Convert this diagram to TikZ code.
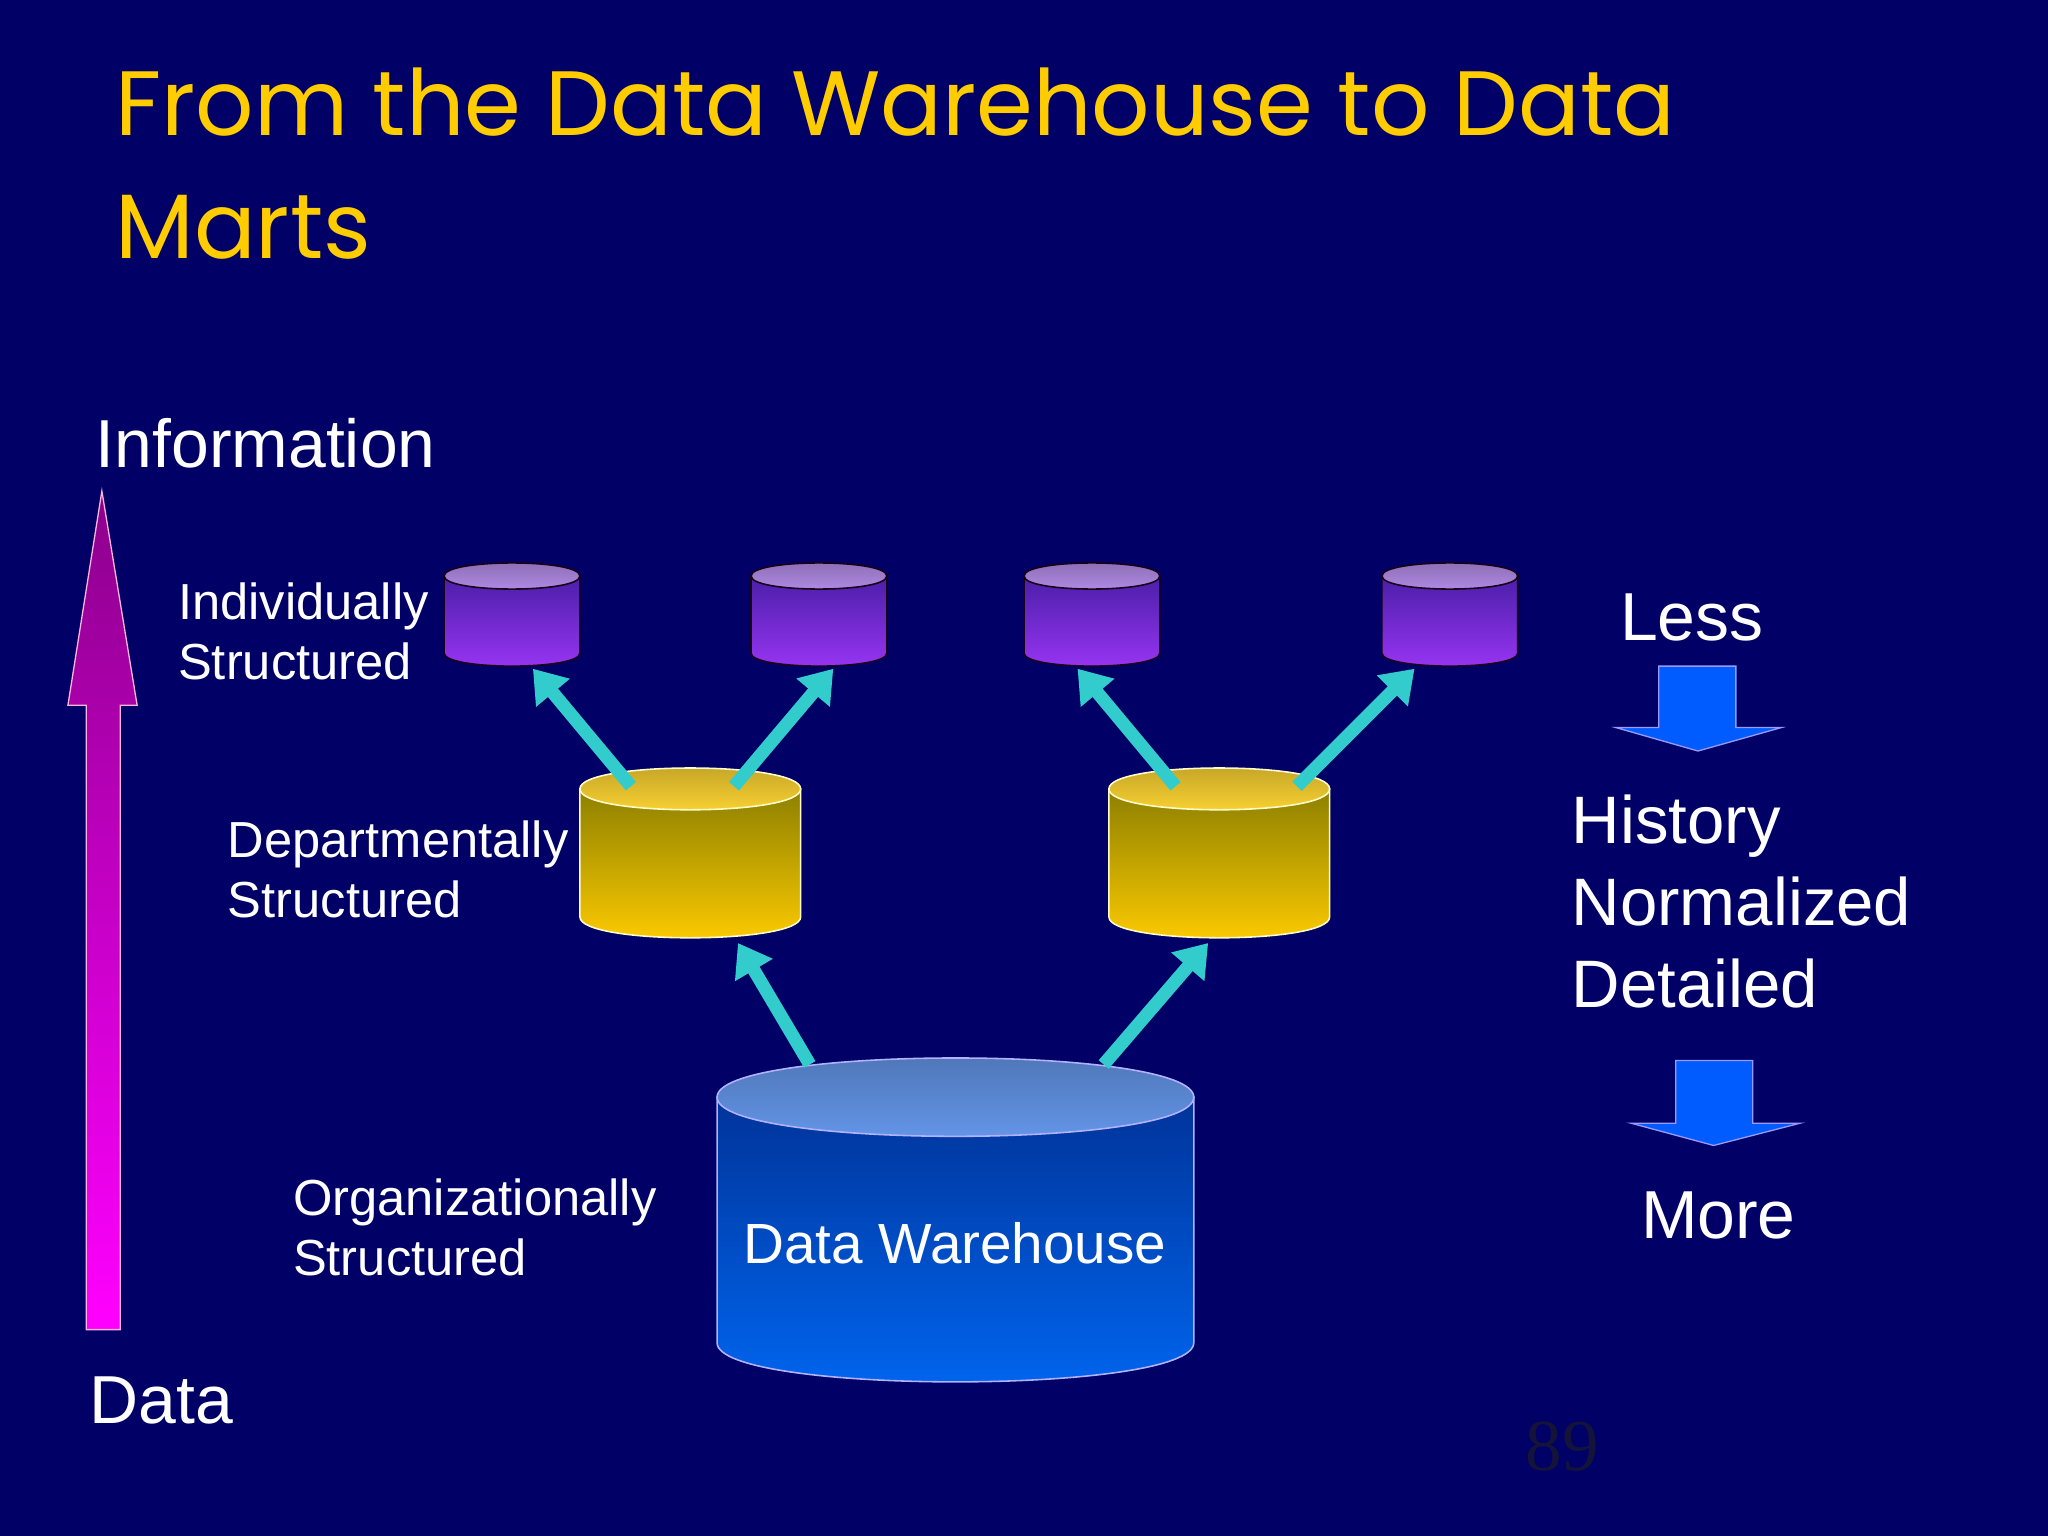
\documentclass[tikz,border=0pt]{standalone}
\usepackage{fontspec}
\setmainfont{Liberation Sans}
\newfontfamily\titlefont{Poppins}
\newfontfamily\numfont{Liberation Serif}
\usetikzlibrary{arrows.meta}
\definecolor{bg}{HTML}{000066}
\definecolor{ttl}{HTML}{FFCC00}
\definecolor{cy}{HTML}{33CCCC}
\definecolor{ptop}{HTML}{4A1FA8}
\definecolor{pbot}{HTML}{9A35F5}
\definecolor{pcap}{HTML}{B58EEA}
\definecolor{btop}{HTML}{003399}
\definecolor{bbot}{HTML}{0066F0}
\definecolor{bcap}{HTML}{6699EE}
\definecolor{pgc}{HTML}{14143A}
\newcommand\cyl[9]{%
 \pgfmathsetmacro\kk{1.333*#5}%
 \pgfmathsetmacro\ytu{#3-\kk}\pgfmathsetmacro\ytd{#3+\kk}\pgfmathsetmacro\ybd{#4+\kk}%
 \shade[top color=#6,bottom color=#7,draw=#9,line width=0.6pt] (#1,#3) -- (#1,#4) .. controls (#1,\ybd) and (#2,\ybd) .. (#2,#4) -- (#2,#3) -- cycle;
 \shade[top color=#8!75!black,bottom color=#8,draw=#9,line width=0.6pt] (#1,#3) .. controls (#1,\ytu) and (#2,\ytu) .. (#2,#3) .. controls (#2,\ytd) and (#1,\ytd) .. (#1,#3) -- cycle;}
\tikzset{lbl/.style={text=white,font=\fontsize{19.4}{23}\selectfont,align=left,anchor=north west,inner sep=0pt},
 big/.style={text=white,font=\fontsize{26}{31}\selectfont,align=left,inner sep=0pt},
 link/.style={cy,line width=5pt,-{Triangle[length=12pt,width=16pt]}}}
\begin{document}
\begin{tikzpicture}[x=0.5pt,y=-0.5pt]
\fill[bg] (0,0) rectangle (1568,1176);
\useasboundingbox (0,0) rectangle (1568,1176);
\node[anchor=base west,inner sep=0pt,text=ttl,font=\titlefont\fontsize{35}{40}\selectfont] (t1) at (88,104) {From the Data Warehouse to Data};
\node[anchor=base west,inner sep=0pt,text=ttl,font=\titlefont\fontsize{35}{40}\selectfont] (t2) at (88,198) {Marts};
% left arrow
\shade[top color=magenta!55!black,bottom color=magenta,draw=white!70!magenta,line width=0.5pt] (66,1018) -- (66,540) -- (52,540) -- (78,376) -- (105,540) -- (92,540) -- (92,1018) -- cycle;
\node[big,anchor=base west] (info) at (73,358) {Information};
\node[big,anchor=base west] (data) at (68,1090) {Data};
% cylinders
\cyl{549}{914}{840}{1028}{30}{btop}{bbot}{bcap}{white!70!blue}
\node[text=white,font=\fontsize{21.7}{26}\selectfont,inner sep=0pt] (dw) at (731,952) {Data Warehouse};
\cyl{444}{613}{604}{702}{16}{yellow!50!black!90!orange}{ttl}{ttl!80!white}{white!80!yellow}
\cyl{849}{1018}{604}{702}{16}{yellow!50!black!90!orange}{ttl}{ttl!80!white}{white!80!yellow}
\foreach \a/\b in {340/444,575/679,784/888,1058/1162}{
 \cyl{\a}{\b}{441}{500}{10}{ptop}{pbot}{pcap}{black!80!violet}}
% connector coordinates
\coordinate (dwl) at (620,815); \coordinate (dml) at (565,722);
\coordinate (dwr) at (845,815); \coordinate (dmr) at (925,722);
\coordinate (a1) at (483,602); \coordinate (m1) at (408,512);
\coordinate (a2) at (562,602); \coordinate (m2) at (638,512);
\coordinate (a3) at (900,602); \coordinate (m3) at (825,512);
\coordinate (a4) at (993,602); \coordinate (m4) at (1083,512);
\foreach \s/\e in {dwl/dml,dwr/dmr,a1/m1,a2/m2,a3/m3,a4/m4} \draw[link] (\s) -- (\e);
% labels
\node[lbl] (ind) at (136,446) {Individually\\Structured};
\node[lbl] (dep) at (174,628) {Departmentally\\Structured};
\node[lbl] (org) at (224,902) {Organizationally\\Structured};
% right side
\node[big,anchor=base west] (less) at (1240,490) {Less};
\node[big,anchor=north west,font=\fontsize{25.7}{31.5}\selectfont] (hist) at (1203,608) {History\\Normalized\\Detailed};
\node[big,anchor=base west] (more) at (1256,948) {More};
\fill[blue!40!cyan!60!blue,draw=white!60!blue,line width=0.5pt] (1270,510) -- (1329,510) -- (1329,557) -- (1364,557) -- (1300,575) -- (1237,557) -- (1270,557) -- cycle;
\fill[blue!40!cyan!60!blue,draw=white!60!blue,line width=0.5pt] (1283,812) -- (1342,812) -- (1342,860) -- (1378,860) -- (1312,877) -- (1249,860) -- (1283,860) -- cycle;
\node[anchor=base,inner sep=0pt,text=pgc,font=\numfont\fontsize{28}{32}\selectfont] (pg) at (1196,1126) {89};
\end{tikzpicture}
\end{document}
